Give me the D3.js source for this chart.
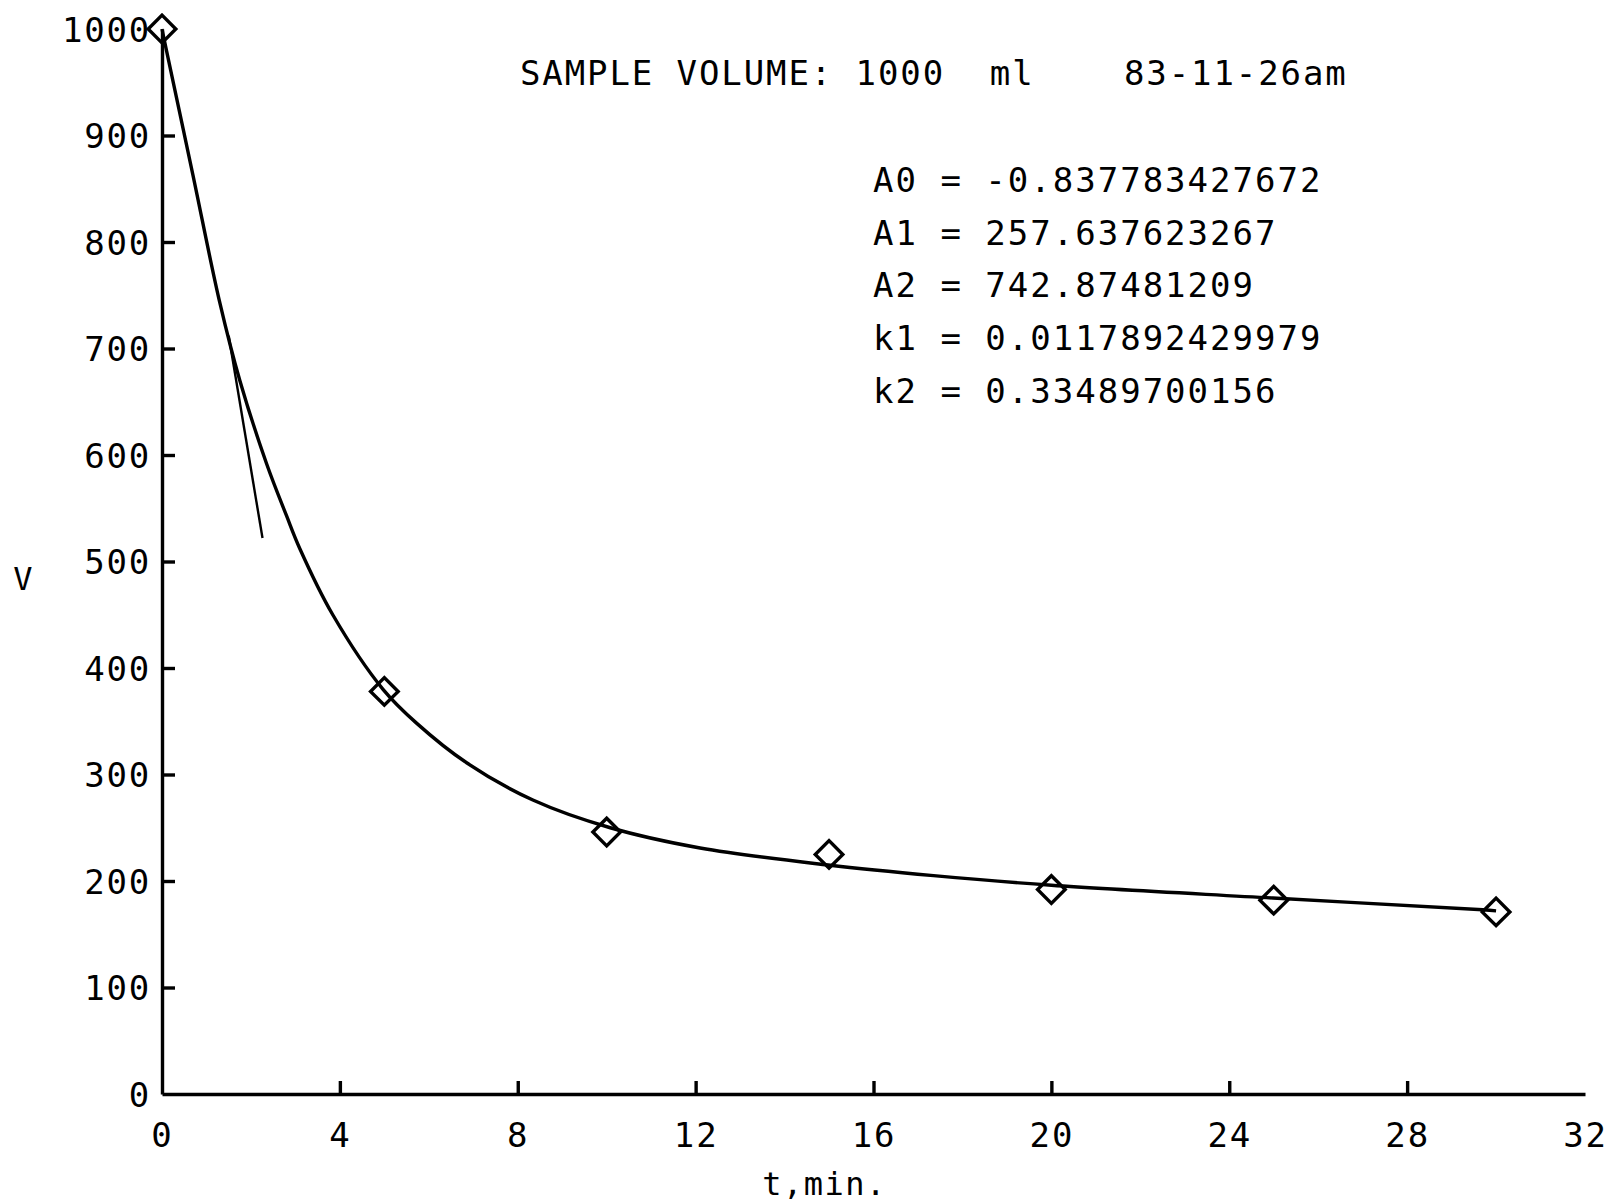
<!DOCTYPE html>
<html>
<head>
<meta charset="utf-8">
<script src="https://cdn.jsdelivr.net/npm/d3@7"></script>
<style>
    body { margin: 0; background: #fff; }
    text { font-family: "DejaVu Sans Mono", "Liberation Mono", monospace; fill: #000; }
</style>
</head>
<body>
<svg id="drawing_region"></svg>
<script>
// measured sample points (t in min, V in ml)
const sample_t = [0, 5, 10, 15, 20, 25, 30];
const sample_v = [1000, 378, 246, 225, 192, 182, 171];

// fitted curve
const fit_t = [0, 0.1, 0.69, 1.3, 1.75, 2.35, 2.8, 3.1, 3.84, 4.97, 5.73, 6.85, 8.34, 10.08, 12.1, 14.98, 17.35, 20, 24.98, 29.7, 30];
const fit_v = [1000, 980, 864, 743, 670, 592, 543, 512, 450, 380, 348, 311, 276, 250, 231, 215, 205, 196, 184, 173, 172];

// short stray pen stroke near the start of the curve
const stray_t = [1.5, 2.26];
const stray_v = [712, 522];

const x_ticks = [0, 4, 8, 12, 16, 20, 24, 28, 32];
const y_ticks = [0, 100, 200, 300, 400, 500, 600, 700, 800, 900, 1000];

const title_text = "SAMPLE VOLUME: 1000  ml    83-11-26am";
const param_lines = [
    "A0 = -0.837783427672",
    "A1 = 257.637623267",
    "A2 = 742.87481209",
    "k1 = 0.0117892429979",
    "k2 = 0.33489700156"
];
const x_label = "t,min.";
const y_label = "V";

class DecayPlot {
    constructor(config) {
        this.config = config;
        this.init();
    }

    init() {
        const self = this;
        const cfg = self.config;

        self.svg = d3.select(cfg.parent)
            .attr("width", cfg.width)
            .attr("height", cfg.height);

        self.xscale = d3.scaleLinear()
            .domain([0, 32])
            .range([cfg.left, cfg.right]);
        self.yscale = d3.scaleLinear()
            .domain([0, 1000])
            .range([cfg.bottom, cfg.top]);

        self.xaxis = d3.axisBottom(self.xscale)
            .tickValues(x_ticks)
            .tickFormat(d3.format("d"))
            .tickSizeInner(-13)
            .tickSizeOuter(0)
            .tickPadding(29);
        self.yaxis = d3.axisLeft(self.yscale)
            .tickValues(y_ticks)
            .tickFormat(d3.format("d"))
            .tickSizeInner(-13)
            .tickSizeOuter(0)
            .tickPadding(11);

        self.xaxis_group = self.svg.append("g")
            .attr("transform", `translate(0,${cfg.bottom})`);
        self.yaxis_group = self.svg.append("g")
            .attr("transform", `translate(${cfg.left},0)`);
    }

    render() {
        const self = this;

        self.xaxis_group.call(self.xaxis);
        self.yaxis_group.call(self.yaxis);

        [self.xaxis_group, self.yaxis_group].forEach(g => {
            g.select(".domain").attr("stroke", "#000").attr("stroke-width", 3.4);
            g.selectAll(".tick line").attr("stroke", "#000").attr("stroke-width", 3.4);
            g.selectAll(".tick text")
                .attr("font-family", "DejaVu Sans Mono")
                .attr("font-size", 34)
                .attr("letter-spacing", 1.8)
                .attr("fill", "#000");
        });
        // no tick marks at the ends of the axes
        self.xaxis_group.selectAll(".tick line").filter(d => d === 0 || d === 32).remove();
        self.yaxis_group.selectAll(".tick line").filter(d => d === 0 || d === 1000).remove();
        self.yaxis_group.selectAll(".tick text").attr("dy", "0.36em");

        const line = d3.line()
            .x(d => self.xscale(d[0]))
            .y(d => self.yscale(d[1]));

        self.svg.append("path")
            .datum(fit_t.map((t, i) => [t, fit_v[i]]))
            .attr("fill", "none")
            .attr("stroke", "#000")
            .attr("stroke-width", 3.4)
            .attr("stroke-linejoin", "round")
            .attr("d", line.curve(d3.curveCatmullRom.alpha(0.5)));

        self.svg.append("path")
            .datum(stray_t.map((t, i) => [t, stray_v[i]]))
            .attr("fill", "none")
            .attr("stroke", "#000")
            .attr("stroke-width", 2.4)
            .attr("d", line.curve(d3.curveLinear));

        const diamond = d3.symbol().type(d3.symbolSquare).size(380);
        self.svg.selectAll(".pt")
            .data(sample_t.map((t, i) => [t, sample_v[i]]))
            .join("path")
            .attr("class", "pt")
            .attr("d", diamond)
            .attr("transform", d => `translate(${self.xscale(d[0])},${self.yscale(d[1])}) rotate(45)`)
            .attr("fill", "none")
            .attr("stroke", "#000")
            .attr("stroke-width", 3.4);

        // title and fit parameters
        self.svg.append("text")
            .attr("x", 520)
            .attr("y", 85)
            .attr("font-size", 34)
            .attr("letter-spacing", 1.9)
            .style("white-space", "pre")
            .text(title_text);

        self.svg.selectAll(".param")
            .data(param_lines)
            .join("text")
            .attr("class", "param")
            .attr("x", 873)
            .attr("y", (d, i) => 192 + i * 52.7)
            .attr("font-size", 34)
            .attr("letter-spacing", 2)
            .style("white-space", "pre")
            .text(d => d);

        self.svg.append("text")
            .attr("x", self.xscale(14.9))
            .attr("y", 1195)
            .attr("text-anchor", "middle")
            .attr("font-size", 32)
            .attr("letter-spacing", 1.5)
            .text(x_label);

        self.svg.append("text")
            .attr("x", 23)
            .attr("y", 590)
            .attr("text-anchor", "middle")
            .attr("font-size", 32)
            .text(y_label);
    }
}

const config = {
    parent: '#drawing_region',
    width: 1623,
    height: 1203,
    left: 162,
    right: 1585,
    top: 29,
    bottom: 1094
};

const plot = new DecayPlot(config);
plot.render();
</script>
</body>
</html>
